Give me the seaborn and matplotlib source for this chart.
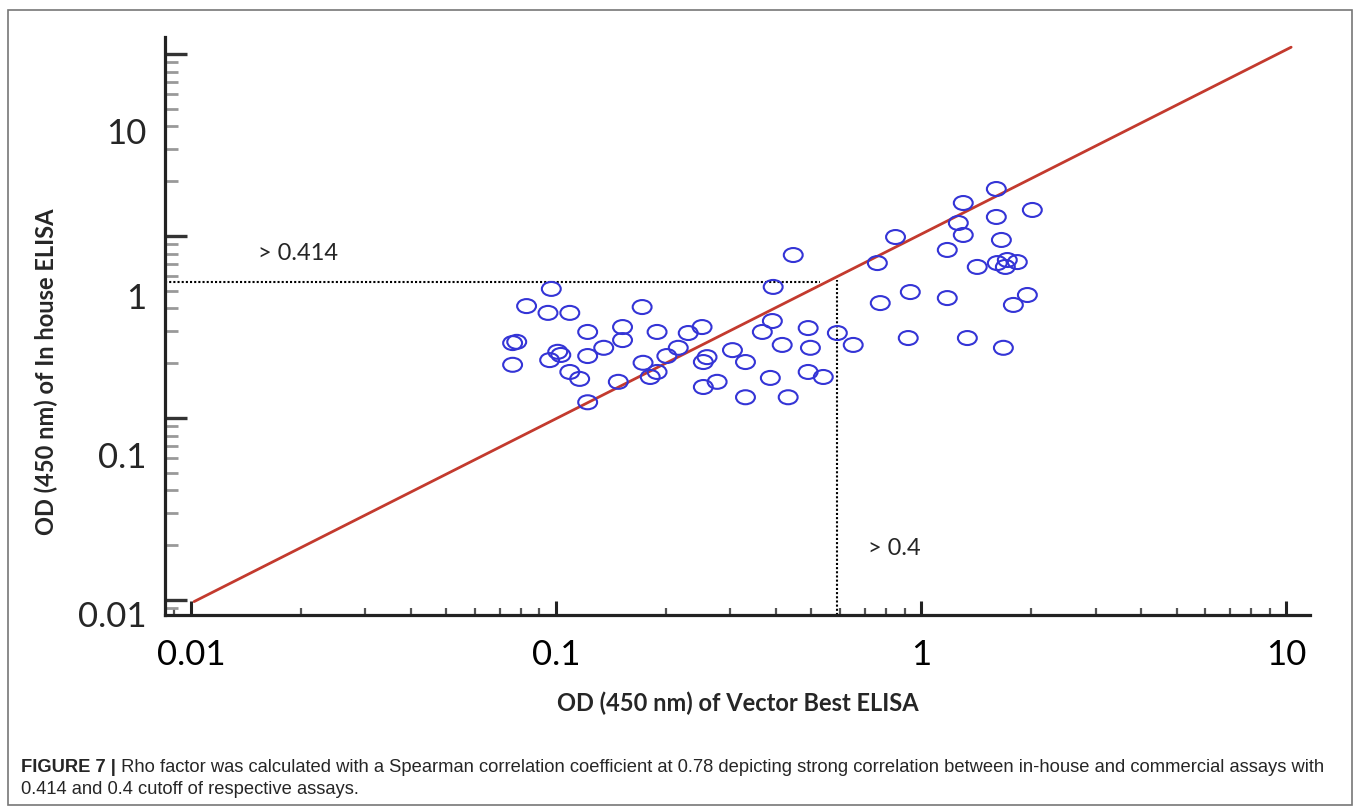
import numpy as np
import pandas as pd
import matplotlib
matplotlib.use("Agg")
import matplotlib.pyplot as plt
import seaborn as sns
from matplotlib.path import Path
from matplotlib.transforms import Affine2D, offset_copy, blended_transform_factory
from matplotlib.ticker import LogLocator, NullFormatter, FixedLocator
import matplotlib.patches as mpatches

# ---------------- data ----------------
vector_best_od = [0.446, 0.393, 0.097, 0.083, 0.095, 0.109, 0.172, 0.122, 0.152, 0.152,
                  0.189, 0.230, 0.251, 0.078, 0.076, 0.076, 0.101, 0.096, 0.103, 0.122,
                  0.135, 0.109, 0.116, 0.148, 0.122, 0.173, 0.181, 0.189, 0.201, 0.216,
                  0.259, 0.253, 0.253, 0.276, 0.304, 0.330, 0.330, 0.367, 0.391, 0.416,
                  0.490, 0.497, 0.490, 0.539, 0.386, 0.432, 0.589, 0.651, 0.758, 0.772,
                  0.850, 1.605, 1.303, 2.014, 1.605, 1.263, 1.303, 1.657, 1.178, 1.423,
                  1.615, 1.720, 1.832, 1.699, 0.933, 1.178, 1.952, 1.787, 0.921, 1.337,
                  1.678]
in_house_od = [0.786, 0.525, 0.512, 0.412, 0.378, 0.378, 0.407, 0.297, 0.316, 0.268,
               0.297, 0.293, 0.316, 0.262, 0.258, 0.196, 0.231, 0.208, 0.222, 0.219,
               0.243, 0.179, 0.164, 0.158, 0.122, 0.201, 0.168, 0.179, 0.219, 0.243,
               0.216, 0.203, 0.148, 0.158, 0.236, 0.203, 0.130, 0.297, 0.341, 0.252,
               0.312, 0.243, 0.179, 0.168, 0.166, 0.130, 0.293, 0.252, 0.710, 0.428,
               0.987, 1.812, 1.518, 1.390, 1.272, 1.179, 1.013, 0.951, 0.838, 0.676,
               0.710, 0.738, 0.719, 0.676, 0.492, 0.456, 0.474, 0.418, 0.275, 0.275,
               0.243]

fit_x = [0.0102, 10.3]
fit_y = [0.0098, 10.9]

cutoff_in_house_pos = 0.558   # where the dotted horizontal line is drawn
cutoff_vector_pos = 0.589     # where the dotted vertical line is drawn
cutoff_in_house_label = "> 0.414"
cutoff_vector_label = "> 0.4"

x_tick_values = [0.01, 0.1, 1, 10]
x_tick_labels = ["0.01", "0.1", "1", "10"]
y_tick_values = [0.01, 0.1, 1, 10]
y_tick_labels = ["0.01", "0.1", "1", "10"]

x_label = "OD (450 nm) of Vector Best ELISA"
y_label = "OD (450 nm) of In house ELISA"
caption_bold = "FIGURE 7 |"
caption_line1 = ("Rho factor was calculated with a Spearman correlation coefficient at 0.78 "
                 "depicting strong correlation between in-house and commercial assays with")
caption_line2 = "0.414 and 0.4 cutoff of respective assays."

df = pd.DataFrame({"vector": vector_best_od, "inhouse": in_house_od})

# ---------------- style ----------------
sns.set_style("white")
plt.rcParams['font.family'] = ['Lato', 'DejaVu Sans']

W, H = 1358, 808
fig = plt.figure(figsize=(W / 100, H / 100), dpi=100)
ax_left, ax_right, ax_top, ax_bot = 165, 1310, 37, 615
ax = fig.add_axes([ax_left / W, 1 - ax_bot / H, (ax_right - ax_left) / W, (ax_bot - ax_top) / H])

ax.set_xscale('log')
ax.set_yscale('log')
ax.set_xlim(0.00849, 11.6)
ax.set_ylim(0.00827, 12.4)

blue = '#3434d6'
red = '#c33a2e'

ellipse = Path.unit_circle().transformed(Affine2D().scale(1.0, 0.74))

sns.lineplot(x=fit_x, y=fit_y, ax=ax, color=red, linewidth=2.0, zorder=3)
sns.scatterplot(data=df, x="vector", y="inhouse", ax=ax, marker=ellipse, s=185,
                facecolor='none', edgecolor=blue, linewidth=1.5, zorder=4)

# cutoff dotted lines
ax.hlines(cutoff_in_house_pos, 0.00849, 0.529, colors='black', linestyles=(0, (1, 1)),
          linewidth=1.5, zorder=2)
ax.vlines(cutoff_vector_pos, 0.00827, 0.573, colors='black', linestyles=(0, (1, 1)),
          linewidth=1.5, zorder=2)
ax.text(0.01526, 0.806, cutoff_in_house_label, fontsize=17, ha='left', va='center')
ax.text(0.716, 0.0193, cutoff_vector_label, fontsize=17, ha='left', va='center')

# spines
for s in ['top', 'right']:
    ax.spines[s].set_visible(False)
for s in ['left', 'bottom']:
    ax.spines[s].set_linewidth(2.3)
    ax.spines[s].set_color('#222222')

# ticks
ax.xaxis.set_major_locator(FixedLocator(x_tick_values))
ax.xaxis.set_minor_locator(LogLocator(base=10, subs=np.arange(2, 10), numticks=30))
ax.yaxis.set_major_locator(FixedLocator(y_tick_values))
ax.yaxis.set_minor_locator(LogLocator(base=10, subs=np.arange(2, 10), numticks=30))
ax.xaxis.set_minor_formatter(NullFormatter())
ax.yaxis.set_minor_formatter(NullFormatter())
ax.set_xticklabels(x_tick_labels)
ax.tick_params(which='both', bottom=True, left=True, top=False, right=False)
ax.tick_params(axis='x', which='major', direction='in', length=10, width=2.2,
               color='#222222', labelsize=25, pad=17, labelcolor='black')
ax.tick_params(axis='x', which='minor', direction='in', length=5, width=1.6, color='#555555')
ax.tick_params(axis='y', which='major', direction='in', length=16, width=2.4,
               color='#333333', labelleft=False)
ax.tick_params(axis='y', which='minor', direction='in', length=9.5, width=2.0, color='#999999')

# y tick labels (placed as in the reference, shifted below their ticks)
ylab_offsets = [-17, -40, -63, -80]
base_tr = blended_transform_factory(ax.transAxes, ax.transData)
for val, lab, off in zip(y_tick_values, y_tick_labels, ylab_offsets):
    tr = offset_copy(base_tr, fig=fig, x=0, y=off, units='dots')
    ax.text(-0.016, val, lab, transform=tr, fontsize=25, ha='right', va='center')

# axis labels
ax.set_xlabel(x_label, fontsize=17, fontweight='bold')
ax.xaxis.set_label_coords(0.5, -0.132)
ax.set_ylabel(y_label, fontsize=17, fontweight='bold')
ax.yaxis.set_label_coords(-0.093, 0.420)

# figure frame
frame = mpatches.Rectangle((8 / W, 1 - 805 / H), (1352 - 8) / W, (805 - 10) / H,
                           transform=fig.transFigure, fill=False, edgecolor='#777777',
                           linewidth=1.2)
fig.patches.append(frame)

# caption
cap_font = ['Liberation Sans', 'DejaVu Sans']
cap_size = 13.2
tb = fig.text(21 / W, 1 - 768 / H, caption_bold, fontsize=cap_size, fontweight='bold',
              family=cap_font, ha='left', va='center')
plt.annotate(" " + caption_line1, xy=(1, 0.5), xycoords=tb, fontsize=cap_size,
             family=cap_font, ha='left', va='center', annotation_clip=False)
fig.text(21 / W, 1 - 790 / H, caption_line2, fontsize=cap_size, family=cap_font,
         ha='left', va='center')

fig.savefig("out.png", dpi=100)
